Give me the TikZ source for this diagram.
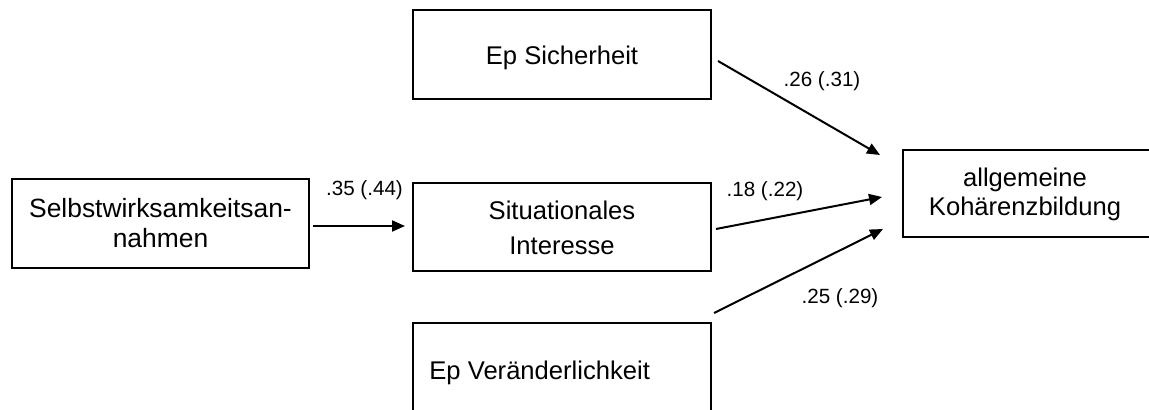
\documentclass[tikz,border=0pt]{standalone}
\usepackage{fontspec}
\setmainfont{Liberation Sans}
\usetikzlibrary{arrows.meta}
\begin{document}
\begin{tikzpicture}[x=0.5pt,y=-0.5pt,
  box/.style={draw, line width=1pt, inner sep=0pt},
  lbl/.style={font=\fontsize{10.3pt}{12pt}\selectfont, inner sep=0pt},
  txt/.style={font=\fontsize{12.8pt}{15.5pt}\selectfont, align=center, inner sep=0pt},
  arr/.style={line width=1pt, -{Triangle[length=6.5pt,width=5.5pt]}}]
\useasboundingbox[fill=white] (0,0) rectangle (1149,410);
% boxes
\draw[box] (12,179) rectangle (309,268);
\node[txt, font=\fontsize{13.2pt}{15pt}\selectfont] (selbst) at (160.5,223) {Selbstwirksamkeitsan-\\nahmen};
\coordinate (selbstE) at (313,226);
\draw[box] (413,10) rectangle (711,99);
\node[txt] (sich) at (562,58) {Ep Sicherheit};
\draw[box] (413,183) rectangle (711,271);
\node[txt, font=\fontsize{12.8pt}{17.5pt}\selectfont] (sit) at (562,228) {Situationales\\Interesse};
\coordinate (sitW) at (405,226);
\draw[box] (413,323) rectangle (711,430);
\node[txt, anchor=west] (ver) at (429,373) {Ep Veränderlichkeit};
\draw[box] (903,150) rectangle (1170,237);
\node[txt, font=\fontsize{12.8pt}{14.5pt}\selectfont] (allg) at (1025,194) {allgemeine\\Kohärenzbildung};
% connectors
\coordinate (a1s) at (718,61);  \coordinate (a1e) at (880,155);
\coordinate (a2s) at (716,229); \coordinate (a2e) at (882,197);
\coordinate (a3s) at (714,313); \coordinate (a3e) at (883,229);
\draw[arr] (selbstE) -- (sitW);
\draw[arr] (a1s) -- (a1e);
\draw[arr] (a2s) -- (a2e);
\draw[arr] (a3s) -- (a3e);
% labels
\node[lbl] (l1) at (364.5,190) {.35 (.44)};
\node[lbl] (l2) at (822,81) {.26 (.31)};
\node[lbl] (l3) at (765,191) {.18 (.22)};
\node[lbl] (l4) at (840,298) {.25 (.29)};
\end{tikzpicture}
\end{document}
